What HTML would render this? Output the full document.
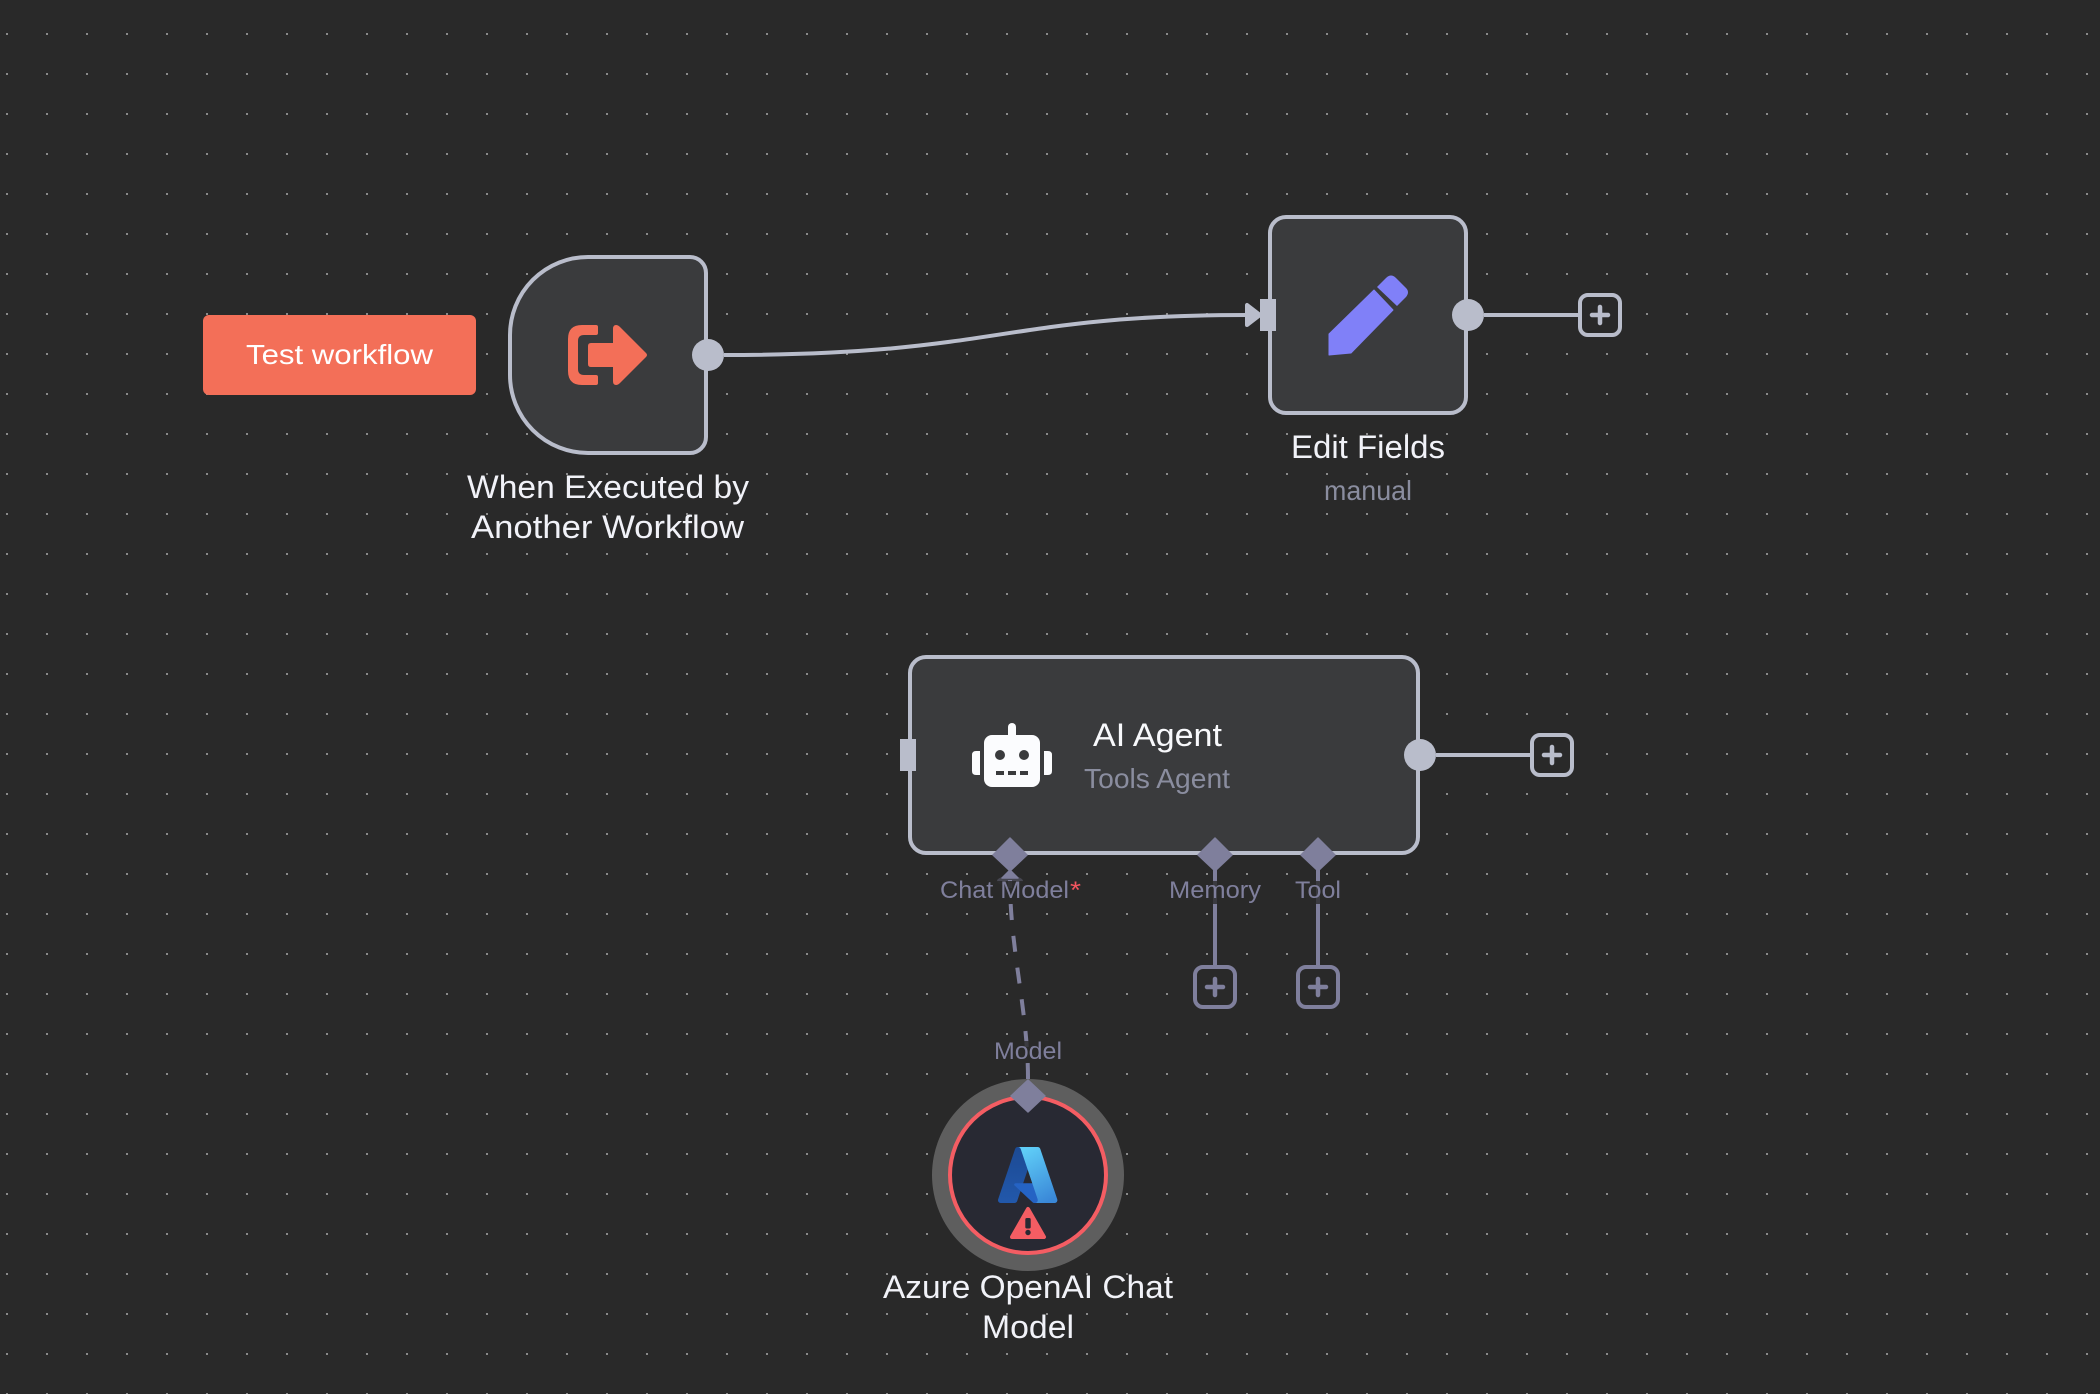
<!DOCTYPE html>
<html>
<head>
<meta charset="utf-8">
<title>Workflow</title>
<style>
html,body{margin:0;padding:0;background:#292929;width:2100px;height:1394px;overflow:hidden}
svg{display:block}
text{font-family:"Liberation Sans",sans-serif}
.t{fill:#f1f2f8;font-size:32px}
.s{fill:#8a8d9f;font-size:28px}
.l{fill:#7f7f9c;font-size:24px}
</style>
</head>
<body>
<svg width="2100" height="1394" viewBox="0 0 2100 1394" xmlns="http://www.w3.org/2000/svg">
<defs>
<pattern id="dots" x="0" y="0" width="40" height="40" patternUnits="userSpaceOnUse">
<rect x="6" y="33" width="2" height="2" fill="#8a8a8a" shape-rendering="crispEdges"/>
</pattern>
<linearGradient id="az1" x1="0" y1="0" x2="0" y2="1"><stop offset="0" stop-color="#1c4a94"/><stop offset="1" stop-color="#2258ab"/></linearGradient>
<linearGradient id="az2" x1="0.3" y1="0" x2="0.7" y2="1"><stop offset="0" stop-color="#5fcdf7"/><stop offset="1" stop-color="#3a88d8"/></linearGradient>
</defs>
<rect width="2100" height="1394" fill="#292929"/>
<rect width="2100" height="1394" fill="url(#dots)"/>

<!-- main connector -->
<path d="M724 355 C1000 355 1000 315 1248 315" fill="none" stroke="#b9bdcb" stroke-width="4"/>
<polygon points="1247,305 1247,325 1260,315" fill="#b9bdcb" stroke="#b9bdcb" stroke-width="4" stroke-linejoin="round"/>

<!-- test button -->
<rect x="203" y="315" width="273" height="80" rx="6" fill="#f36f58"/>
<text x="246" y="364" fill="#ffffff" font-size="28" textLength="187" lengthAdjust="spacingAndGlyphs">Test workflow</text>

<!-- trigger node -->
<path d="M588 257 H690 A16 16 0 0 1 706 273 V437 A16 16 0 0 1 690 453 H588 A78 78 0 0 1 510 375 V335 A78 78 0 0 1 588 257 Z" fill="#3a3b3d" stroke="#b9bdcb" stroke-width="4"/>
<path d="M596 325 Q598 325 598 327 V333 Q598 335 596 335 H584 Q578 335 578 341 V369 Q578 375 584 375 H596 Q598 375 598 377 V383 Q598 385 596 385 H582 Q568 385 568 371 V339 Q568 325 582 325 Z" fill="#f36f58"/>
<path d="M588 346 Q588 343 591 343 H613 V329 Q613 325 616 325 Q618 325 620 327 L646 353 Q648 355 646 357 L620 383 Q618 385 616 385 Q613 385 613 381 V367 H591 Q588 367 588 364 Z" fill="#f36f58"/>
<circle cx="708" cy="355" r="16" fill="#b9bdcb"/>
<text class="t" x="467" y="498" textLength="282" lengthAdjust="spacingAndGlyphs">When Executed by</text>
<text class="t" x="471" y="538" textLength="273" lengthAdjust="spacingAndGlyphs">Another Workflow</text>

<!-- edit fields node -->
<rect x="1270" y="217" width="196" height="196" rx="16" fill="#3a3b3d" stroke="#b9bdcb" stroke-width="4"/>
<rect x="1260" y="299" width="16" height="32" fill="#b9bdcb"/>
<polygon points="1329,334 1374,290 1393,310 1351,353 1329,355" fill="#8080f8" stroke="#8080f8" stroke-width="1" stroke-linejoin="round"/>
<path d="M1377 287 L1386 278 Q1391 273 1396 278 L1406 288 Q1410 292 1406 297 L1397 306 Z" fill="#8080f8"/>
<circle cx="1468" cy="315" r="16" fill="#b9bdcb"/>
<line x1="1484" y1="315" x2="1580" y2="315" stroke="#b9bdcb" stroke-width="4"/>
<rect x="1580" y="295" width="40" height="40" rx="8" fill="#292929" stroke="#b9bdcb" stroke-width="4"/>
<path d="M1592 315 H1608 M1600 307 V323" stroke="#b9bdcb" stroke-width="4.5" stroke-linecap="round"/>
<text class="t" x="1291" y="458" textLength="154" lengthAdjust="spacingAndGlyphs">Edit Fields</text>
<text class="s" x="1324" y="500" textLength="88" lengthAdjust="spacingAndGlyphs">manual</text>

<!-- sub connectors -->
<path d="M1215 870 V966" stroke="#7f7f9c" stroke-width="4" fill="none"/>
<path d="M1318 870 V966" stroke="#7f7f9c" stroke-width="4" fill="none"/>
<path d="M1028 1079 C1028 1010 1010 950 1010 880" fill="none" stroke="#7f7f9c" stroke-width="4" stroke-dasharray="16 16"/>
<ellipse cx="1010" cy="881" rx="13" ry="5" fill="#7f7f9c" opacity=".35"/>

<!-- label backgrounds -->
<rect x="938" y="881" width="144" height="23" fill="#292929" opacity=".88"/>
<rect x="1167" y="881" width="96" height="23" fill="#292929" opacity=".8"/>
<rect x="1292" y="881" width="50" height="23" fill="#292929" opacity=".8"/>
<rect x="992" y="1041" width="72" height="22" fill="#292929" opacity=".8"/>

<!-- AI agent node -->
<rect x="910" y="657" width="508" height="196" rx="16" fill="#3a3b3d" stroke="#b9bdcb" stroke-width="4"/>
<rect x="900" y="739" width="16" height="32" fill="#b9bdcb"/>
<circle cx="1420" cy="755" r="16" fill="#b9bdcb"/>
<line x1="1436" y1="755" x2="1532" y2="755" stroke="#b9bdcb" stroke-width="4"/>
<rect x="1532" y="735" width="40" height="40" rx="8" fill="#292929" stroke="#b9bdcb" stroke-width="4"/>
<path d="M1544 755 H1560 M1552 747 V763" stroke="#b9bdcb" stroke-width="4.5" stroke-linecap="round"/>

<!-- robot -->
<g fill="#fbfcfe">
<rect x="984" y="735" width="56" height="52" rx="8"/>
<rect x="1008" y="723" width="8" height="16" rx="4"/>
<path d="M980 751 V775 H976 Q972 775 972 771 V755 Q972 751 976 751 Z"/>
<path d="M1044 751 V775 H1048 Q1052 775 1052 771 V755 Q1052 751 1048 751 Z"/>
</g>
<g fill="#3a3b3d">
<circle cx="1000" cy="755" r="5"/>
<circle cx="1024" cy="755" r="5"/>
<rect x="996" y="771" width="8" height="4"/>
<rect x="1008" y="771" width="8" height="4"/>
<rect x="1020" y="771" width="8" height="4"/>
</g>
<text x="1093" y="746" fill="#f8f9fc" font-size="32" textLength="129" lengthAdjust="spacingAndGlyphs">AI Agent</text>
<text class="s" x="1084" y="788" textLength="146" lengthAdjust="spacingAndGlyphs">Tools Agent</text>

<!-- diamonds -->
<g fill="#7f7f9c" stroke="#7f7f9c" stroke-width="1.5" stroke-linejoin="round">
<polygon points="1010,838 1027,855 1010,871 993,855"/>
<polygon points="1215,838 1232,855 1215,871 1198,855"/>
<polygon points="1318,838 1335,855 1318,871 1301,855"/>
<polygon points="1010,870 1018,878 1002,878"/>
</g>

<!-- port labels -->
<text class="l" x="940" y="898" textLength="129" lengthAdjust="spacingAndGlyphs">Chat Model</text>
<text x="1070" y="898" fill="#f2555f" font-size="24" textLength="11" lengthAdjust="spacingAndGlyphs">*</text>
<text class="l" x="1169" y="898" textLength="92" lengthAdjust="spacingAndGlyphs">Memory</text>
<text class="l" x="1295" y="898" textLength="46" lengthAdjust="spacingAndGlyphs">Tool</text>

<!-- plus boxes -->
<rect x="1195" y="967" width="40" height="40" rx="8" fill="#292929" stroke="#7f7f9c" stroke-width="4"/>
<path d="M1207 987 H1223 M1215 979 V995" stroke="#7f7f9c" stroke-width="4.5" stroke-linecap="round"/>
<rect x="1298" y="967" width="40" height="40" rx="8" fill="#292929" stroke="#7f7f9c" stroke-width="4"/>
<path d="M1310 987 H1326 M1318 979 V995" stroke="#7f7f9c" stroke-width="4.5" stroke-linecap="round"/>

<!-- azure node -->
<text class="l" x="994" y="1059" textLength="68" lengthAdjust="spacingAndGlyphs">Model</text>
<circle cx="1028" cy="1175" r="96" fill="#5e5e5e"/>
<circle cx="1028" cy="1175" r="78" fill="#282933" stroke="#f45d63" stroke-width="4"/>
<g transform="translate(995.3 1142.6) scale(.675)">
<path d="M33.34 6.54h26.04l-27.03 80.1a4.15 4.15 0 0 1-3.94 2.81H8.15a4.14 4.14 0 0 1-3.93-5.47L29.4 9.38a4.15 4.15 0 0 1 3.94-2.83z" fill="url(#az1)"/>
<path d="M71.17 60.26H29.88a1.91 1.91 0 0 0-1.3 3.31l26.53 24.76a4.17 4.17 0 0 0 2.85 1.13h23.38z" fill="#2563c4"/>
<path d="M66.6 9.36a4.14 4.14 0 0 0-3.93-2.82H33.65a4.15 4.15 0 0 1 3.93 2.82l25.18 74.62a4.15 4.15 0 0 1-3.93 5.48h29.02a4.15 4.15 0 0 0 3.93-5.48z" fill="url(#az2)"/>
</g>
<polygon points="1028,1209 1044,1237 1012,1237" fill="#f45d63" stroke="#f45d63" stroke-width="4" stroke-linejoin="round"/>
<rect x="1025.3" y="1218" width="5.4" height="10.5" rx="1.5" fill="#282933"/>
<circle cx="1028" cy="1232.5" r="2.7" fill="#282933"/>
<polygon points="1028,1080 1045,1096 1028,1112 1011,1096" fill="#7f7f9c" stroke="#7f7f9c" stroke-width="1.5" stroke-linejoin="round"/>
<text class="t" x="883" y="1298" textLength="290" lengthAdjust="spacingAndGlyphs">Azure OpenAI Chat</text>
<text class="t" x="982" y="1338" textLength="92" lengthAdjust="spacingAndGlyphs">Model</text>
</svg>
</body>
</html>
